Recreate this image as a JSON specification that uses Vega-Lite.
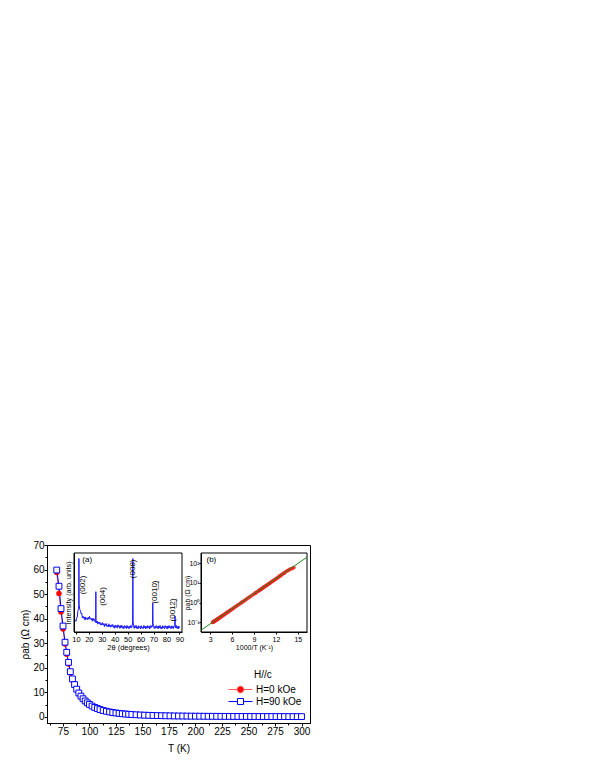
{
  "$schema": "https://vega.github.io/schema/vega-lite/v6.json",
  "autosize": "none",
  "width": 263,
  "height": 178,
  "padding": {"left": 47, "top": 545, "right": 285, "bottom": 47},
  "background": "white",
  "config": {
    "font": "Liberation Sans",
    "view": {"stroke": "black", "strokeWidth": 1},
    "axis": {"grid": false, "domainColor": "black", "tickColor": "black", "labelColor": "black", "titleColor": "black", "titleFontWeight": "normal", "domainWidth": 1, "tickWidth": 1, "labelFlush": false, "labelOverlap": false}
  },
  "datasets": {
    "main": [
      {"T":69.2,"rho":58.8,"s":"H=0 kOe"},{"T":71.3,"rho":50.2,"s":"H=0 kOe"},{"T":73.2,"rho":42.7,"s":"H=0 kOe"},{"T":75.1,"rho":35.8,"s":"H=0 kOe"},{"T":77,"rho":29.7,"s":"H=0 kOe"},{"T":78.6,"rho":25.5,"s":"H=0 kOe"},{"T":80.3,"rho":21.5,"s":"H=0 kOe"},{"T":82,"rho":17.9,"s":"H=0 kOe"},{"T":84,"rho":15.0,"s":"H=0 kOe"},{"T":86,"rho":12.8,"s":"H=0 kOe"},{"T":88,"rho":10.9,"s":"H=0 kOe"},{"T":90,"rho":9.43,"s":"H=0 kOe"},{"T":92,"rho":8.19,"s":"H=0 kOe"},{"T":94,"rho":7.15,"s":"H=0 kOe"},{"T":96,"rho":6.29,"s":"H=0 kOe"},{"T":98,"rho":5.55,"s":"H=0 kOe"},{"T":100,"rho":4.93,"s":"H=0 kOe"},{"T":102.5,"rho":4.27,"s":"H=0 kOe"},{"T":105,"rho":3.72,"s":"H=0 kOe"},{"T":107.5,"rho":3.28,"s":"H=0 kOe"},{"T":110,"rho":2.89,"s":"H=0 kOe"},{"T":113,"rho":2.51,"s":"H=0 kOe"},{"T":116,"rho":2.2,"s":"H=0 kOe"},{"T":119,"rho":1.94,"s":"H=0 kOe"},{"T":122,"rho":1.72,"s":"H=0 kOe"},{"T":125,"rho":1.53,"s":"H=0 kOe"},{"T":128,"rho":1.37,"s":"H=0 kOe"},{"T":131,"rho":1.23,"s":"H=0 kOe"},{"T":134,"rho":1.12,"s":"H=0 kOe"},{"T":137,"rho":1.02,"s":"H=0 kOe"},{"T":140,"rho":0.926,"s":"H=0 kOe"},{"T":144,"rho":0.825,"s":"H=0 kOe"},{"T":148,"rho":0.739,"s":"H=0 kOe"},{"T":152,"rho":0.666,"s":"H=0 kOe"},{"T":156,"rho":0.603,"s":"H=0 kOe"},{"T":160,"rho":0.549,"s":"H=0 kOe"},{"T":164,"rho":0.502,"s":"H=0 kOe"},{"T":168,"rho":0.462,"s":"H=0 kOe"},{"T":172,"rho":0.426,"s":"H=0 kOe"},{"T":176,"rho":0.394,"s":"H=0 kOe"},{"T":180,"rho":0.366,"s":"H=0 kOe"},{"T":184,"rho":0.34,"s":"H=0 kOe"},{"T":188,"rho":0.319,"s":"H=0 kOe"},{"T":192,"rho":0.299,"s":"H=0 kOe"},{"T":196,"rho":0.28,"s":"H=0 kOe"},{"T":200,"rho":0.265,"s":"H=0 kOe"},{"T":204,"rho":0.249,"s":"H=0 kOe"},{"T":208,"rho":0.237,"s":"H=0 kOe"},{"T":212,"rho":0.224,"s":"H=0 kOe"},{"T":216,"rho":0.212,"s":"H=0 kOe"},{"T":220,"rho":0.203,"s":"H=0 kOe"},{"T":224,"rho":0.193,"s":"H=0 kOe"},{"T":228,"rho":0.184,"s":"H=0 kOe"},{"T":232,"rho":0.177,"s":"H=0 kOe"},{"T":236,"rho":0.169,"s":"H=0 kOe"},{"T":240,"rho":0.162,"s":"H=0 kOe"},{"T":244,"rho":0.156,"s":"H=0 kOe"},{"T":248,"rho":0.15,"s":"H=0 kOe"},{"T":252,"rho":0.145,"s":"H=0 kOe"},{"T":256,"rho":0.14,"s":"H=0 kOe"},{"T":260,"rho":0.135,"s":"H=0 kOe"},{"T":264,"rho":0.13,"s":"H=0 kOe"},{"T":268,"rho":0.126,"s":"H=0 kOe"},{"T":272,"rho":0.122,"s":"H=0 kOe"},{"T":276,"rho":0.118,"s":"H=0 kOe"},{"T":280,"rho":0.114,"s":"H=0 kOe"},{"T":284,"rho":0.112,"s":"H=0 kOe"},{"T":288,"rho":0.109,"s":"H=0 kOe"},{"T":292,"rho":0.105,"s":"H=0 kOe"},{"T":296,"rho":0.103,"s":"H=0 kOe"},{"T":300,"rho":0.1,"s":"H=0 kOe"},
      {"T":69.2,"rho":59.8,"s":"H=90 kOe"},{"T":71.3,"rho":53.2,"s":"H=90 kOe"},{"T":73.2,"rho":44.1,"s":"H=90 kOe"},{"T":75.1,"rho":37,"s":"H=90 kOe"},{"T":77,"rho":30.4,"s":"H=90 kOe"},{"T":78.6,"rho":26.3,"s":"H=90 kOe"},{"T":80.3,"rho":22.2,"s":"H=90 kOe"},{"T":82,"rho":18.4,"s":"H=90 kOe"},{"T":84,"rho":15.46,"s":"H=90 kOe"},{"T":86,"rho":13.15,"s":"H=90 kOe"},{"T":88,"rho":11.27,"s":"H=90 kOe"},{"T":90,"rho":9.72,"s":"H=90 kOe"},{"T":92,"rho":8.44,"s":"H=90 kOe"},{"T":94,"rho":7.37,"s":"H=90 kOe"},{"T":96,"rho":6.48,"s":"H=90 kOe"},{"T":98,"rho":5.72,"s":"H=90 kOe"},{"T":100,"rho":5.08,"s":"H=90 kOe"},{"T":102.5,"rho":4.4,"s":"H=90 kOe"},{"T":105,"rho":3.84,"s":"H=90 kOe"},{"T":107.5,"rho":3.38,"s":"H=90 kOe"},{"T":110,"rho":2.98,"s":"H=90 kOe"},{"T":113,"rho":2.59,"s":"H=90 kOe"},{"T":116,"rho":2.27,"s":"H=90 kOe"},{"T":119,"rho":2.0,"s":"H=90 kOe"},{"T":122,"rho":1.77,"s":"H=90 kOe"},{"T":125,"rho":1.58,"s":"H=90 kOe"},{"T":128,"rho":1.41,"s":"H=90 kOe"},{"T":131,"rho":1.27,"s":"H=90 kOe"},{"T":134,"rho":1.15,"s":"H=90 kOe"},{"T":137,"rho":1.05,"s":"H=90 kOe"},{"T":140,"rho":0.955,"s":"H=90 kOe"},{"T":144,"rho":0.85,"s":"H=90 kOe"},{"T":148,"rho":0.762,"s":"H=90 kOe"},{"T":152,"rho":0.687,"s":"H=90 kOe"},{"T":156,"rho":0.622,"s":"H=90 kOe"},{"T":160,"rho":0.566,"s":"H=90 kOe"},{"T":164,"rho":0.518,"s":"H=90 kOe"},{"T":168,"rho":0.476,"s":"H=90 kOe"},{"T":172,"rho":0.439,"s":"H=90 kOe"},{"T":176,"rho":0.406,"s":"H=90 kOe"},{"T":180,"rho":0.377,"s":"H=90 kOe"},{"T":184,"rho":0.351,"s":"H=90 kOe"},{"T":188,"rho":0.329,"s":"H=90 kOe"},{"T":192,"rho":0.308,"s":"H=90 kOe"},{"T":196,"rho":0.289,"s":"H=90 kOe"},{"T":200,"rho":0.273,"s":"H=90 kOe"},{"T":204,"rho":0.257,"s":"H=90 kOe"},{"T":208,"rho":0.244,"s":"H=90 kOe"},{"T":212,"rho":0.231,"s":"H=90 kOe"},{"T":216,"rho":0.219,"s":"H=90 kOe"},{"T":220,"rho":0.209,"s":"H=90 kOe"},{"T":224,"rho":0.199,"s":"H=90 kOe"},{"T":228,"rho":0.19,"s":"H=90 kOe"},{"T":232,"rho":0.182,"s":"H=90 kOe"},{"T":236,"rho":0.174,"s":"H=90 kOe"},{"T":240,"rho":0.167,"s":"H=90 kOe"},{"T":244,"rho":0.161,"s":"H=90 kOe"},{"T":248,"rho":0.155,"s":"H=90 kOe"},{"T":252,"rho":0.149,"s":"H=90 kOe"},{"T":256,"rho":0.144,"s":"H=90 kOe"},{"T":260,"rho":0.139,"s":"H=90 kOe"},{"T":264,"rho":0.134,"s":"H=90 kOe"},{"T":268,"rho":0.13,"s":"H=90 kOe"},{"T":272,"rho":0.126,"s":"H=90 kOe"},{"T":276,"rho":0.122,"s":"H=90 kOe"},{"T":280,"rho":0.118,"s":"H=90 kOe"},{"T":284,"rho":0.115,"s":"H=90 kOe"},{"T":288,"rho":0.112,"s":"H=90 kOe"},{"T":292,"rho":0.108,"s":"H=90 kOe"},{"T":296,"rho":0.106,"s":"H=90 kOe"},{"T":300,"rho":0.103,"s":"H=90 kOe"}
    ],
    "xrd": [
      {"a":9.5,"i":15},{"a":10,"i":13.5},{"a":10.5,"i":17.6},{"a":11,"i":18.8},{"a":11.5,"i":26.2},{"a":12,"i":29.6},{"a":12.15,"i":34},{"a":12.3,"i":93},{"a":12.45,"i":36},{"a":12.6,"i":33.5},{"a":13,"i":28.2},{"a":13.5,"i":27.2},{"a":14,"i":22.9},{"a":14.5,"i":23.9},{"a":15,"i":17.6},{"a":15.5,"i":19.9},{"a":16,"i":17.4},{"a":16.5,"i":19},{"a":17,"i":15.1},{"a":17.5,"i":19.1},{"a":18,"i":16.1},{"a":18.5,"i":17.6},{"a":19,"i":15.5},{"a":19.5,"i":18.8},{"a":20,"i":16.2},{"a":20.5,"i":19.7},{"a":21,"i":16.3},{"a":21.5,"i":17.6},{"a":22,"i":14.9},{"a":22.5,"i":17.3},{"a":23,"i":13.7},{"a":23.5,"i":17.2},{"a":24,"i":14.7},{"a":24.5,"i":16.1},{"a":25,"i":12.1},{"a":25.25,"i":16},{"a":25.4,"i":51},{"a":25.55,"i":15},{"a":25.75,"i":14},{"a":26,"i":11.4},{"a":26.5,"i":13.9},{"a":27,"i":9.9},{"a":27.5,"i":12.4},{"a":28,"i":10.5},{"a":28.5,"i":12.6},{"a":29,"i":8.8},{"a":29.5,"i":10.9},{"a":30,"i":8.8},{"a":30.5,"i":11.8},{"a":31,"i":8.8},{"a":31.5,"i":10.6},{"a":32,"i":6.8},{"a":32.5,"i":10.5},{"a":33,"i":8.2},{"a":33.5,"i":10.6},{"a":34,"i":7.1},{"a":34.5,"i":8.7},{"a":35,"i":6.3},{"a":35.5,"i":10.4},{"a":36,"i":7},{"a":36.5,"i":8.7},{"a":37,"i":6},{"a":37.5,"i":9.1},{"a":38,"i":7.1},{"a":38.5,"i":9.5},{"a":39,"i":5.7},{"a":39.5,"i":8.1},{"a":40,"i":4.7},{"a":40.5,"i":8.7},{"a":41,"i":6},{"a":41.5,"i":8.2},{"a":42,"i":4.9},{"a":42.5,"i":9.1},{"a":43,"i":6.2},{"a":43.5,"i":7.8},{"a":44,"i":4.5},{"a":44.5,"i":8.2},{"a":45,"i":5.4},{"a":45.5,"i":8.5},{"a":46,"i":4.9},{"a":46.5,"i":7},{"a":47,"i":4.1},{"a":47.5,"i":8.1},{"a":48,"i":5.5},{"a":48.5,"i":7.6},{"a":49,"i":4.4},{"a":49.5,"i":8.3},{"a":50,"i":5},{"a":50.5,"i":6.9},{"a":51,"i":4},{"a":51.5,"i":7.6},{"a":52,"i":5.6},{"a":52.5,"i":8.4},{"a":53,"i":5.1},{"a":53.5,"i":8},{"a":53.8,"i":12},{"a":54,"i":93},{"a":54.2,"i":14},{"a":54.5,"i":8.5},{"a":55,"i":4.6},{"a":55.5,"i":8},{"a":56,"i":5.5},{"a":56.5,"i":8.4},{"a":57,"i":4.5},{"a":57.5,"i":6.8},{"a":58,"i":3.9},{"a":58.5,"i":7.8},{"a":59,"i":5.5},{"a":59.5,"i":7.2},{"a":60,"i":3.8},{"a":60.5,"i":8},{"a":61,"i":4.9},{"a":61.5,"i":6.4},{"a":62,"i":4.2},{"a":62.5,"i":8.3},{"a":63,"i":5.1},{"a":63.5,"i":7.5},{"a":64,"i":4},{"a":64.5,"i":7},{"a":65,"i":4.7},{"a":65.5,"i":8.1},{"a":66,"i":5.4},{"a":66.5,"i":7.4},{"a":67,"i":3.9},{"a":67.5,"i":8.1},{"a":68,"i":5.3},{"a":68.5,"i":7.8},{"a":69,"i":6.6},{"a":69.2,"i":10},{"a":69.4,"i":37},{"a":69.6,"i":11},{"a":70,"i":8.1},{"a":70.5,"i":4.4},{"a":71,"i":7},{"a":71.5,"i":4.7},{"a":72,"i":8.2},{"a":72.5,"i":5.3},{"a":73,"i":7.1},{"a":73.5,"i":3.9},{"a":74,"i":7.7},{"a":74.5,"i":5},{"a":75,"i":8.3},{"a":75.5,"i":4.4},{"a":76,"i":6.5},{"a":76.5,"i":3.8},{"a":77,"i":7.9},{"a":77.5,"i":5.2},{"a":78,"i":7.3},{"a":78.5,"i":4.2},{"a":79,"i":8},{"a":79.5,"i":5.5},{"a":80,"i":7},{"a":80.5,"i":3.7},{"a":81,"i":7.6},{"a":81.5,"i":4.8},{"a":82,"i":8.2},{"a":82.5,"i":5.3},{"a":83,"i":6.9},{"a":83.5,"i":4},{"a":84,"i":7.8},{"a":84.5,"i":4.9},{"a":85,"i":7.4},{"a":85.5,"i":4.3},{"a":86,"i":8},{"a":86.4,"i":9},{"a":86.6,"i":20},{"a":86.8,"i":9},{"a":87,"i":5.5},{"a":87.5,"i":8.4},{"a":88,"i":4.7},{"a":88.5,"i":6.9},{"a":89,"i":3.8},{"a":89.5,"i":7.7},{"a":90,"i":5.1}
    ],
    "peaks": [
      {"a":15.7,"i":59.5,"t":"(002)"},{"a":30.7,"i":45,"t":"(004)"},{"a":54,"i":80,"t":"(008)"},{"a":71.1,"i":50.6,"t":"(001\u03320\u0332)"},{"a":85.2,"i":28,"t":"(001\u03322\u0332)"}
    ],
    "arr": [
      {"x":14.451,"r":58.8},{"x":14.24,"r":54},{"x":14.025,"r":50.2},{"x":13.84,"r":46.5},{"x":13.661,"r":42.7},{"x":13.49,"r":39},{"x":13.316,"r":35.8},{"x":13.15,"r":31.1},{"x":12.987,"r":29.7},{"x":12.85,"r":26.1},{"x":12.723,"r":25.5},{"x":12.59,"r":22.4},{"x":12.453,"r":21.5},{"x":12.32,"r":19.1},{"x":12.195,"r":17.9},{"x":12.05,"r":16.3},{"x":11.905,"r":15.0},{"x":11.77,"r":13.87},{"x":11.628,"r":12.8},{"x":11.5,"r":11.84},{"x":11.364,"r":10.9},{"x":11.24,"r":10.17},{"x":11.111,"r":9.43},{"x":11.0,"r":8.84},{"x":10.87,"r":8.19},{"x":10.75,"r":7.63},{"x":10.638,"r":7.15},{"x":10.52,"r":6.67},{"x":10.417,"r":6.29},{"x":10.3,"r":5.87},{"x":10.204,"r":5.55},{"x":10.1,"r":5.22},{"x":10,"r":4.93},{"x":9.88,"r":4.59},{"x":9.756,"r":4.27},{"x":9.65,"r":4.01},{"x":9.524,"r":3.72},{"x":9.302,"r":3.28},{"x":9.2,"r":3.08},{"x":9.091,"r":2.89},{"x":8.85,"r":2.51},{"x":8.621,"r":2.2},{"x":8.403,"r":1.94},{"x":8.197,"r":1.72},{"x":8,"r":1.53},{"x":7.813,"r":1.37},{"x":7.634,"r":1.23},{"x":7.463,"r":1.12},{"x":7.299,"r":1.02},{"x":7.143,"r":0.926},{"x":6.944,"r":0.825},{"x":6.757,"r":0.739},{"x":6.579,"r":0.666},{"x":6.41,"r":0.603},{"x":6.25,"r":0.549},{"x":6.098,"r":0.502},{"x":5.952,"r":0.462},{"x":5.814,"r":0.426},{"x":5.682,"r":0.394},{"x":5.556,"r":0.366},{"x":5.435,"r":0.34},{"x":5.319,"r":0.319},{"x":5.208,"r":0.299},{"x":5.102,"r":0.28},{"x":5,"r":0.265},{"x":4.902,"r":0.249},{"x":4.808,"r":0.237},{"x":4.717,"r":0.224},{"x":4.63,"r":0.212},{"x":4.545,"r":0.203},{"x":4.464,"r":0.193},{"x":4.386,"r":0.184},{"x":4.31,"r":0.177},{"x":4.237,"r":0.169},{"x":4.167,"r":0.162},{"x":4.098,"r":0.156},{"x":4.032,"r":0.15},{"x":3.968,"r":0.145},{"x":3.906,"r":0.14},{"x":3.846,"r":0.135},{"x":3.788,"r":0.13},{"x":3.731,"r":0.126},{"x":3.676,"r":0.122},{"x":3.623,"r":0.118},{"x":3.571,"r":0.114},{"x":3.521,"r":0.112},{"x":3.472,"r":0.109},{"x":3.425,"r":0.105},{"x":3.378,"r":0.103},{"x":3.333,"r":0.1}
    ],
    "fit": [{"x":1.75,"r":0.0407},{"x":16.25,"r":196}]
  },
  "layer": [
    {
      "data": {"name": "main"},
      "encoding": {
        "x": {"field": "T", "type": "quantitative",
          "scale": {"domain": [60, 308], "nice": false, "zero": false},
          "axis": {"orient": "bottom", "title": "T (K)", "values": [62.5,75,87.5,100,112.5,125,137.5,150,162.5,175,187.5,200,212.5,225,237.5,250,262.5,275,287.5,300],
            "labelExpr": "datum.value % 25 === 0 ? datum.label : ''",
            "tickSize": {"condition": {"test": "datum.value % 25 === 0", "value": 3}, "value": 2},
            "labelFontSize": 10, "titleFontSize": 10, "labelPadding": 0, "titlePadding": 7}},
        "y": {"field": "rho", "type": "quantitative",
          "scale": {"domain": [-2.5, 70], "nice": false, "zero": false},
          "axis": {"orient": "left", "title": "ρab (Ω cm)", "values": [0,5,10,15,20,25,30,35,40,45,50,55,60,65,70],
            "labelExpr": "datum.value % 10 === 0 ? datum.label : ''",
            "tickSize": {"condition": {"test": "datum.value % 10 === 0", "value": 3}, "value": 2},
            "labelFontSize": 10, "titleFontSize": 10, "labelPadding": 0, "titlePadding": 2}}
      },
      "layer": [
        {"mark": {"type": "line", "strokeWidth": 1},
         "encoding": {"stroke": {"field": "s", "type": "nominal",
            "scale": {"domain": ["H=0 kOe", "H=90 kOe"], "range": ["#ff5a5a", "#0000ff"]},
            "legend": {"title": "H//c", "orient": "none", "legendX": 187, "legendY": 125, "padding": 0,
              "titleFontSize": 10, "titleFontWeight": "normal", "titlePadding": 3, "titleColor": "black",
              "labelFontSize": 10, "labelColor": "black", "symbolSize": 144, "labelOffset": 9, "rowPadding": 0, "symbolStrokeWidth": 1,
              "encode": {
                "title": {"update": {"dx": {"value": 20}}},
                "symbols": {"update": {
                  "shape": {"signal": "datum.value === 'H=0 kOe' ? 'M-2,0H-0.55M0.55,0H2M0.55,0A0.55,0.55 0 1 1 -0.55,0A0.55,0.55 0 1 1 0.55,0Z' : 'M-2,0H-0.5M0.5,0H2M-0.5,-0.5H0.5V0.5H-0.5Z'"},
                  "fill": {"signal": "datum.value === 'H=0 kOe' ? '#ff0000' : '#ffffff'"},
                  "stroke": {"signal": "datum.value === 'H=0 kOe' ? '#ff0000' : '#0000ff'"},
                  "strokeWidth": {"value": 1},
                  "opacity": {"value": 1}
                }}
              }}}}},
        {"transform": [{"filter": "datum.s === 'H=0 kOe'"}],
         "mark": {"type": "point", "shape": "circle", "filled": true, "color": "#ff0000", "size": 30, "opacity": 1}},
        {"transform": [{"filter": "datum.s === 'H=90 kOe'"}],
         "mark": {"type": "point", "shape": "square", "filled": true, "stroke": "#0000ff", "fill": "#ffffff", "fillOpacity": 1, "strokeWidth": 1, "size": 34, "opacity": 1}}
      ]
    },
    {
      "encoding": {
        "x": {"type": "quantitative",
          "scale": {"domain": [8.5, 92], "range": [27, 135], "nice": false, "zero": false},
          "axis": {"orient": "bottom", "offset": -91, "title": "2θ (degrees)", "values": [10,20,30,40,50,60,70,80,90],
            "tickSize": 2, "labelFontSize": 7.5, "titleFontSize": 7.5, "labelPadding": 1, "titlePadding": 1}},
        "y": {"type": "quantitative",
          "scale": {"domain": [0, 100], "range": [87, 8], "nice": false, "zero": false},
          "axis": {"orient": "left", "offset": -27, "title": "Intensity (arb. units)", "labels": false, "ticks": false,
            "titleFontSize": 7.2, "titlePadding": 2}}
      },
      "layer": [
        {"data": {"values": [{"f": 1}]},
         "mark": {"type": "rect", "fill": "white", "fillOpacity": 0, "stroke": "black", "strokeWidth": 1},
         "encoding": {"x": {"datum": 8.5, "type": "quantitative"}, "x2": {"datum": 92}, "y": {"datum": 0, "type": "quantitative"}, "y2": {"datum": 100}}},
        {"data": {"name": "xrd"},
         "mark": {"type": "line", "stroke": "#1a1aff", "strokeWidth": 1},
         "encoding": {"x": {"field": "a", "type": "quantitative"}, "y": {"field": "i", "type": "quantitative"}}},
        {"data": {"name": "peaks"},
         "mark": {"type": "text", "angle": 270, "fontSize": 8, "align": "center", "baseline": "middle", "color": "black"},
         "encoding": {"x": {"field": "a", "type": "quantitative"}, "y": {"field": "i", "type": "quantitative"}, "text": {"field": "t"}}},
        {"data": {"values": [{"f": 1}]},
         "mark": {"type": "text", "fontSize": 8, "align": "left", "baseline": "middle", "color": "black", "text": "(a)"},
         "encoding": {"x": {"datum": 14.9, "type": "quantitative"}, "y": {"datum": 91, "type": "quantitative"}}}
      ]
    },
    {
      "encoding": {
        "x": {"type": "quantitative",
          "scale": {"domain": [1.75, 16.25], "range": [154, 260], "nice": false, "zero": false},
          "axis": {"orient": "bottom", "offset": -91, "title": "1000/T (K⁻¹)", "values": [3,6,9,12,15],
            "tickSize": 2, "labelFontSize": 7, "titleFontSize": 7, "labelPadding": 1, "titlePadding": 1}},
        "y": {"type": "quantitative",
          "scale": {"type": "log", "domain": [0.033, 320], "range": [87, 8], "nice": false},
          "axis": {"orient": "left", "offset": -154, "title": "ρab (Ω cm)", "titleX": -11, "values": [0.1, 1, 10, 100],
            "labelExpr": "datum.value < 0.5 ? '10⁻¹' : datum.value < 5 ? '10⁰' : datum.value < 50 ? '10¹' : '10²'",
            "tickSize": 2, "labelFontSize": 7, "titleFontSize": 7, "labelPadding": 0, "titlePadding": 1}}
      },
      "layer": [
        {"data": {"values": [{"f": 1}]},
         "mark": {"type": "rect", "fill": "white", "fillOpacity": 0, "stroke": "black", "strokeWidth": 1},
         "encoding": {"x": {"datum": 1.75, "type": "quantitative"}, "x2": {"datum": 16.25}, "y": {"datum": 0.033, "type": "quantitative"}, "y2": {"datum": 320}}},
        {"data": {"name": "arr"},
         "mark": {"type": "circle", "color": "#ff1a1a", "size": 14, "opacity": 0.85},
         "encoding": {"x": {"field": "x", "type": "quantitative"}, "y": {"field": "r", "type": "quantitative"}}},
        {"data": {"name": "fit"},
         "mark": {"type": "line", "stroke": "#1a8c1a", "strokeWidth": 1},
         "encoding": {"x": {"field": "x", "type": "quantitative"}, "y": {"field": "r", "type": "quantitative"}}},
        {"data": {"values": [{"f": 1}]},
         "mark": {"type": "text", "fontSize": 8, "align": "left", "baseline": "middle", "color": "black", "text": "(b)"},
         "encoding": {"x": {"datum": 2.5, "type": "quantitative"}, "y": {"datum": 145, "type": "quantitative"}}}
      ]
    }
  ],
  "resolve": {"scale": {"x": "independent", "y": "independent"}}
}
